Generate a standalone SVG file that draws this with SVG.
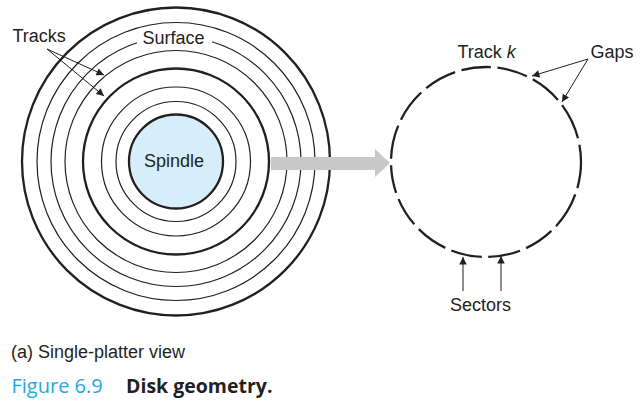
<svg xmlns="http://www.w3.org/2000/svg" width="640" height="405" viewBox="0 0 640 405">
  <style>
    .lbl { font-family: "Liberation Sans", Arial, sans-serif; font-size: 18px; fill: #231f20; }
    .thin { fill: none; stroke: #231f20; stroke-width: 1.2; }
    .thick { fill: none; stroke: #231f20; stroke-width: 2.3; }
    .ptr { stroke: #231f20; stroke-width: 1; fill: none; marker-end: url(#ah); }
  </style>
  <defs>
    <marker id="ah" viewBox="0 0 10 10" refX="10" refY="5" markerWidth="10" markerHeight="7.5" orient="auto" markerUnits="userSpaceOnUse">
      <path d="M0,0 L10,5 L0,10 z" fill="#231f20"/>
    </marker>
  </defs>
  <rect width="640" height="405" fill="#ffffff"/>

  <g id="platter">
    <circle class="thick" cx="176" cy="161.5" r="154"/>
    <circle class="thin" cx="176" cy="161.5" r="139"/>
    <circle class="thin" cx="176" cy="161.5" r="125"/>
    <circle class="thin" cx="176" cy="161.5" r="111"/>
    <circle class="thick" cx="176" cy="161.5" r="93"/>
    <circle class="thin" cx="176" cy="161.5" r="74.5"/>
    <circle class="thin" cx="176" cy="161.5" r="60"/>
  </g>
  <g id="spindle">
    <circle cx="176" cy="161.5" r="47" fill="#d6eef9" stroke="#231f20" stroke-width="2.3"/>
    <text class="lbl" x="174" y="166.5" text-anchor="middle">Spindle</text>
  </g>
  <g id="surface">
    <rect x="137" y="31" width="75" height="16" fill="#ffffff"/>
    <text class="lbl" x="173.5" y="44" text-anchor="middle">Surface</text>
  </g>
  <g id="tracks">
    <text class="lbl" x="12.5" y="41.5">Tracks</text>
  </g>
  <g id="view-arrow">
    <polygon points="271,157 375,157 375,149 390,163 375,177 375,170 271,170" fill="#c8c8c8"/>
  </g>
  <g id="track-k">
    <circle cx="486" cy="162" r="95" fill="none" stroke="#231f20" stroke-width="2.3" pathLength="360"
      stroke-dasharray="16 4 22.5 4 18.5 4 19.6 4 18.8 4 19.6 4 18 4 17 4 20.5 4 20.5 4 20 4 18 4 18.5 4 19.7 4 22.3 4 12"/>
    <text class="lbl" x="457.5" y="57.5">Track <tspan font-style="italic">k</tspan></text>
  </g>
  <g id="gaps">
    <text class="lbl" x="590.5" y="57.5">Gaps</text>
  </g>
  <g id="sectors">
    <text class="lbl" x="480.5" y="310.5" text-anchor="middle">Sectors</text>
  </g>
  <g id="connectors">
    <line class="ptr" x1="47" y1="49" x2="104" y2="75"/>
    <line class="ptr" x1="47" y1="49" x2="104" y2="96"/>
    <line class="ptr" x1="588" y1="59" x2="532" y2="76"/>
    <line class="ptr" x1="588" y1="59" x2="562" y2="102"/>
    <line class="ptr" x1="463" y1="291" x2="463" y2="257"/>
    <line class="ptr" x1="501" y1="291" x2="501" y2="256"/>
  </g>
  <g id="caption">
    <text class="lbl" x="11" y="358">(a) Single-platter view</text>
    <text x="11.5" y="393" font-family="'Open Sans', 'Noto Sans', sans-serif" font-size="20" fill="#1fa8e0">Figure 6.9</text>
    <text x="126" y="393" font-family="'Open Sans', 'Noto Sans', sans-serif" font-size="19.5" font-weight="bold" fill="#231f20">Disk geometry.</text>
  </g>
</svg>
